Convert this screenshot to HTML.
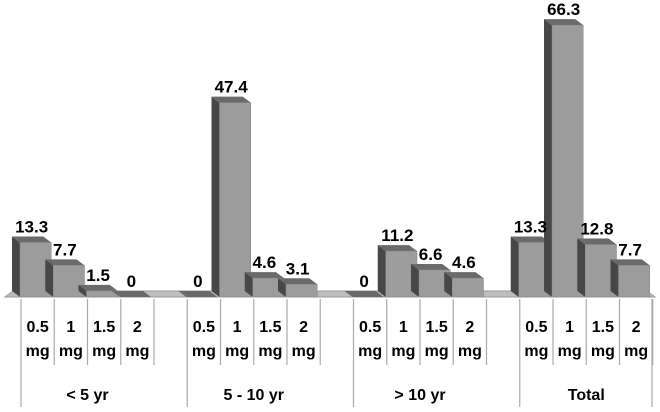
<!DOCTYPE html>
<html><head><meta charset="utf-8"><style>
body{margin:0;background:#fff}
svg text{font-family:"Liberation Sans",Arial,sans-serif;font-weight:bold;fill:#000}
</style></head><body>
<svg width="660" height="407" viewBox="0 0 660 407" xmlns="http://www.w3.org/2000/svg">
<g id="floor"></g>
<g id="grid"></g>
<g id="bars"></g>
<g id="labels"></g>
</svg>
<script>
const groups = ["< 5 yr", "5 - 10 yr", "> 10 yr", "Total"];
const doses = ["0.5", "1", "1.5", "2"];
const values = [
  [13.3, 7.7, 1.5, 0],
  [0, 47.4, 4.6, 3.1],
  [0, 11.2, 6.6, 4.6],
  [13.3, 66.3, 12.8, 7.7]
];
const NS = "http://www.w3.org/2000/svg";
const x0 = 21, slot = 33.25, base = 297, scale = 4.1, dx = -8, dy = -6;
function xs(g, i) { return x0 + (g * 5 + i) * slot; }
function ys(v) { return base - v * scale; }
function mk(tag, attrs, parent) {
  const e = document.createElementNS(NS, tag);
  for (const k in attrs) e.setAttribute(k, attrs[k]);
  parent.appendChild(e); return e;
}
const floor = document.getElementById('floor');
const fl = mk('polygon', {points: `5,297 655,297 647,${297+dy} 13,${297+dy}`, fill: '#bdbdbd', stroke: '#9a9a9a', 'stroke-width': 1}, floor);


const grid = document.getElementById('grid');
for (let k = 0; k <= 19; k++) {
  const x = x0 + k * slot;
  const major = k % 5 === 0;
  const l = mk('line', {x1: x, x2: x, y1: 299, y2: major ? 407 : 365, stroke: '#aaa', 'stroke-width': 1.2}, grid);
  
  
}
const endL = mk('line', {x1: 652, x2: 652, y1: 299, y2: 407, stroke: '#aaa', 'stroke-width': 1.2}, grid);


const bars = document.getElementById('bars');
const labels = document.getElementById('labels');
values.forEach((row, g) => {
  row.forEach((v, i) => {
    const xl = xs(g, i) - 1, xr = xs(g, i) + slot - 3;
    const yt = ys(v);
    const b = mk('g', {}, bars);
    
    
    mk('polygon', {points: `${xl},${base} ${xl+dx},${base+dy} ${xl+dx},${yt+dy} ${xl},${yt}`, fill: '#474747'}, b);
    mk('polygon', {points: `${xl},${yt} ${xl+dx},${yt+dy} ${xr+dx},${yt+dy} ${xr},${yt}`, fill: '#6a6a6a'}, b);
    mk('rect', {x: xl, y: yt, width: xr - xl, height: base - yt, fill: '#9c9c9c', stroke: '#888', 'stroke-width': 0.5}, b);
    const t = mk('text', {x: (xl + xr) / 2 - 4, y: yt - 10, 'text-anchor': 'middle', 'font-size': 17}, labels);
    t.textContent = v;
    
    
    const cx = xs(g, i) + slot / 2;
    const d = mk('text', {x: cx, y: 332, 'text-anchor': 'middle', 'font-size': 16}, labels);
    d.textContent = doses[i];
    
    
    const m = mk('text', {x: cx, y: 356, 'text-anchor': 'middle', 'font-size': 16}, labels);
    m.textContent = 'mg';
    
    
  });
  const gl = mk('text', {x: xs(g, 2), y: 400, 'text-anchor': 'middle', 'font-size': 16}, labels);
  gl.textContent = groups[g];
  
  
});
</script>
</body></html>
